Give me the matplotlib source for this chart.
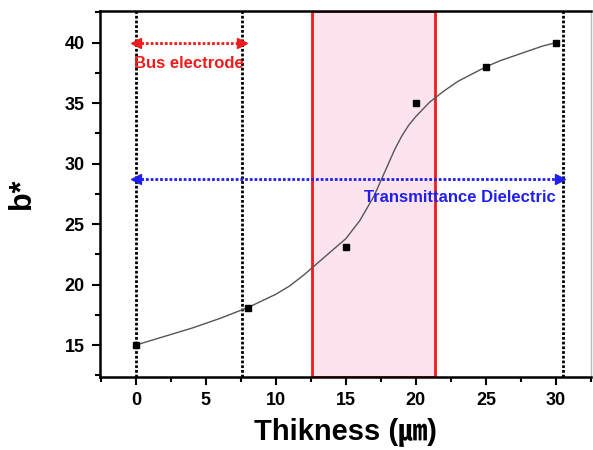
import matplotlib
matplotlib.use('Agg')
import matplotlib.pyplot as plt

# measured points
thick = [0, 8, 15, 20, 25, 30]
bstar = [15.0, 18.1, 23.1, 35.0, 38.0, 40.0]

# fitted curve
curve_x = [0, 2, 4, 6, 8, 10, 11, 12, 13, 14, 15, 16, 17, 17.5, 18, 18.5, 19, 19.5, 20, 21, 22, 23, 24, 25, 26, 27, 28, 29, 30]
curve_y = [15.0, 15.7, 16.4, 17.2, 18.1, 19.2, 19.9, 20.8, 21.8, 22.8, 23.8, 25.3, 27.3, 28.6, 29.9, 31.2, 32.3, 33.2, 33.9, 35.1, 36.0, 36.8, 37.4, 38.0, 38.5, 38.9, 39.3, 39.7, 40.0]

vlines_x = [0, 7.6, 30.5]
band = (12.55, 21.35)
bus = (0, 7.6, 40.0)
trans = (0, 30.3, 28.7)

dots = (0, (1, 0.7))

plt.rcParams['font.family'] = ['Liberation Sans', 'Noto Sans CJK KR', 'DejaVu Sans']
plt.rcParams['font.weight'] = 'bold'

fig = plt.figure(figsize=(5.93, 4.5), dpi=100)
ax = fig.add_axes([0.1686, 0.1622, 0.828, 0.813])

ax.axvspan(band[0], band[1], facecolor='#fde3ee', edgecolor='#ee1c1c', lw=2, zorder=1)
for v in vlines_x:
    ax.axvline(v, color='black', ls=dots, lw=2, zorder=2)

ax.plot(curve_x, curve_y, color='#555555', lw=1, zorder=3)
ax.plot(thick, bstar, ls='none', marker='s', ms=5, color='black', zorder=4)

# bus electrode arrow
ax.plot([bus[0], bus[1]], [bus[2], bus[2]], color='#ee1c1c', ls=dots, lw=2, zorder=5)
ax.plot([bus[0]], [bus[2]], marker='<', color='#ee1c1c', ms=7, zorder=5)
ax.plot([bus[1]], [bus[2]], marker='>', color='#ee1c1c', ms=7, zorder=5)
ax.text((bus[0] + bus[1]) / 2, 38.3, 'Bus electrode', color='#ee1c1c', fontsize=12,
        fontweight='bold', ha='center', va='center', zorder=6)

# dielectric arrow
ax.plot([trans[0], trans[1]], [trans[2], trans[2]], color='#2020ee', ls=dots, lw=2, zorder=5)
ax.plot([trans[0]], [trans[2]], marker='<', color='#2020ee', ms=7, zorder=5)
ax.plot([trans[1]], [trans[2]], marker='>', color='#2020ee', ms=7, zorder=5)
ax.text(30.0, 27.2, 'Transmittance Dielectric', color='#2020ee', fontsize=12,
        fontweight='bold', ha='right', va='center', zorder=6)

ax.set_xlim(-2.56, 32.3)
ax.set_ylim(12.36, 42.6)
ax.set_xticks([0, 5, 10, 15, 20, 25, 30])
ax.set_xticks([-2.5, 2.5, 7.5, 12.5, 17.5, 22.5, 27.5, 32.5], minor=True)
ax.set_yticks([15, 20, 25, 30, 35, 40])
ax.set_yticks([12.5, 17.5, 22.5, 27.5, 32.5, 37.5, 42.5], minor=True)
ax.tick_params(which='major', direction='out', length=6, width=1.5, labelsize=13, pad=5)
ax.tick_params(which='minor', direction='out', length=3.5, width=1.5)
for lbl in ax.get_xticklabels() + ax.get_yticklabels():
    lbl.set_fontweight('bold')

for s in ['left', 'bottom', 'top']:
    ax.spines[s].set_linewidth(1.8)
ax.spines['right'].set_color('#bbbbbb')
ax.spines['right'].set_linewidth(1)

ax.set_xlabel('Thikness (㎛)', fontsize=21, fontweight='bold', labelpad=6)
ax.set_ylabel('b*', fontsize=22, fontweight='bold', labelpad=20)

fig.savefig('out.png', dpi=100)
